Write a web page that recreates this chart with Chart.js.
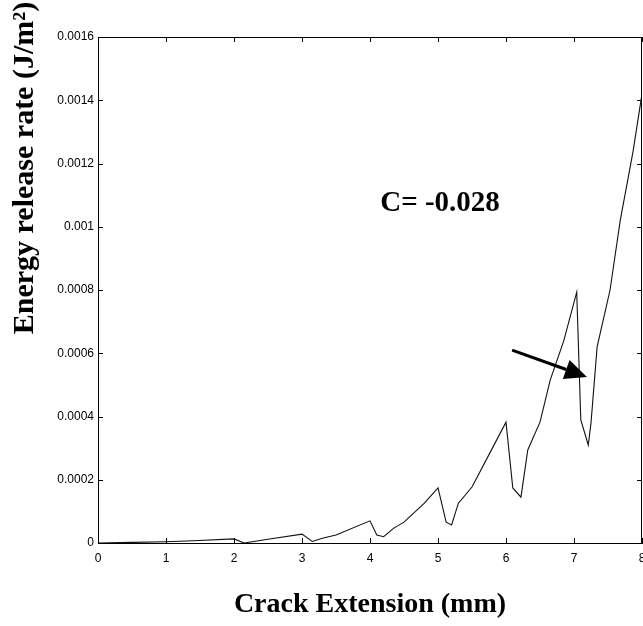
<!DOCTYPE html>
<html>
<head>
<meta charset="utf-8">
<script src="https://cdn.jsdelivr.net/npm/chart.js@4.4.1/dist/chart.umd.min.js"></script>
<style>
html,body{margin:0;padding:0;background:#fff;}
#wrap{width:643px;height:626px;position:relative;}
</style>
</head>
<body>
<div id="wrap"><canvas id="c" width="643" height="626"></canvas></div>
<script>
// Crack extension (mm)
const crackExt = [0, 0.5, 1.0, 1.4, 2.0, 2.15, 2.5, 3.0, 3.15, 3.3, 3.5, 4.0, 4.1, 4.2, 4.35, 4.5, 4.8, 5.0, 5.12, 5.2, 5.3, 5.5, 5.8, 6.0, 6.1, 6.22, 6.32, 6.5, 6.65, 6.85, 7.04, 7.1, 7.21, 7.25, 7.34, 7.53, 7.68, 7.87, 8.0];
// Energy release rate (J/m^2)
const energyRate = [0, 0.000002, 0.000004, 0.000007, 0.000013, 0.0, 0.000012, 0.000028, 0.000005, 0.000015, 0.000025, 0.00007, 0.000025, 0.00002, 0.000047, 0.000066, 0.000126, 0.000174, 0.000066, 0.000057, 0.000126, 0.000177, 0.0003, 0.000382, 0.000174, 0.000145, 0.000294, 0.000382, 0.000515, 0.00064, 0.000793, 0.000389, 0.00031, 0.00038, 0.00062, 0.0008, 0.00102, 0.00124, 0.00142];
const xTitle = 'Crack Extension (mm)';
const yTitle = 'Energy release rate (J/m²)';
const noteText = 'C= -0.028';
const notePos = [4.15, 0.00105];
const arrowFrom = [6.09, 0.00061];
const arrowTo = [7.19, 0.000525];

const points = crackExt.map((x, i) => ({x: x, y: energyRate[i]}));

const framePlugin = {
  id: 'frame',
  afterDraw(chart) {
    const ctx = chart.ctx;
    const xs = chart.scales.x, ys = chart.scales.y;
    const a = chart.chartArea;
    ctx.save();
    ctx.strokeStyle = '#000';
    ctx.lineWidth = 1;
    // frame
    ctx.beginPath();
    ctx.moveTo(a.left, a.top + 0.5); ctx.lineTo(a.right, a.top + 0.5);
    ctx.moveTo(a.right - 0.5, a.top); ctx.lineTo(a.right - 0.5, a.bottom);
    ctx.stroke();
    // inward ticks
    ctx.beginPath();
    xs.ticks.forEach(t => {
      const px = Math.round(xs.getPixelForValue(t.value)) + 0.5;
      ctx.moveTo(px, a.bottom); ctx.lineTo(px, a.bottom - 5);
      ctx.moveTo(px, a.top); ctx.lineTo(px, a.top + 5);
    });
    ys.ticks.forEach(t => {
      const py = Math.round(ys.getPixelForValue(t.value)) + 0.5;
      ctx.moveTo(a.left, py); ctx.lineTo(a.left + 5, py);
      ctx.moveTo(a.right, py); ctx.lineTo(a.right - 5, py);
    });
    ctx.stroke();
    // y title
    ctx.fillStyle = '#000';
    ctx.font = 'bold 30px "Liberation Serif"';
    ctx.textAlign = 'center';
    ctx.textBaseline = 'alphabetic';
    ctx.save();
    ctx.translate(33, 168);
    ctx.rotate(-Math.PI / 2);
    ctx.fillText(yTitle, 0, 0);
    ctx.restore();
    // annotation
    ctx.font = 'bold 29px "Liberation Serif"';
    ctx.textAlign = 'left';
    ctx.fillText(noteText, xs.getPixelForValue(notePos[0]), ys.getPixelForValue(notePos[1]));
    // arrow
    const x1 = xs.getPixelForValue(arrowFrom[0]), y1 = ys.getPixelForValue(arrowFrom[1]);
    const x2 = xs.getPixelForValue(arrowTo[0]), y2 = ys.getPixelForValue(arrowTo[1]);
    const ang = Math.atan2(y2 - y1, x2 - x1);
    const hl = 22, hw = 10;
    const bx = x2 - hl * Math.cos(ang), by = y2 - hl * Math.sin(ang);
    ctx.lineWidth = 3;
    ctx.beginPath();
    ctx.moveTo(x1, y1); ctx.lineTo(bx, by);
    ctx.stroke();
    ctx.beginPath();
    ctx.moveTo(x2, y2);
    ctx.lineTo(bx + hw * Math.sin(ang), by - hw * Math.cos(ang));
    ctx.lineTo(bx - hw * Math.sin(ang), by + hw * Math.cos(ang));
    ctx.closePath();
    ctx.fill();
    ctx.restore();
  }
};

new Chart(document.getElementById('c'), {
  type: 'line',
  data: {
    datasets: [{
      data: points,
      borderColor: '#111',
      borderWidth: 1.1,
      pointRadius: 0,
      tension: 0,
      fill: false
    }]
  },
  options: {
    responsive: false,
    animation: false,
    layout: {padding: {top: 37, right: 1, left: 0, bottom: 0}},
    plugins: {legend: {display: false}, tooltip: {enabled: false}},
    scales: {
      x: {
        type: 'linear', min: 0, max: 8,
        ticks: {stepSize: 1, color: '#000', padding: 8, font: {family: 'Liberation Sans', size: 12}, maxRotation: 0},
        grid: {display: false, drawTicks: false},
        border: {display: true, color: '#000', width: 1},
        title: {display: true, text: xTitle, color: '#000', font: {family: 'Liberation Serif', size: 28, weight: 'bold'}, padding: {top: 0, bottom: 4}},
        afterFit(s) { s.height = 83; s.paddingLeft = 0; s.paddingRight = 0; }
      },
      y: {
        type: 'linear', min: 0, max: 0.0016,
        ticks: {stepSize: 0.0002, color: '#000', padding: 4, font: {family: 'Liberation Sans', size: 12},
          callback: v => String(Number(Number(v).toPrecision(6)))},
        grid: {display: false, drawTicks: false},
        border: {display: true, color: '#000', width: 1},
        afterFit(s) { s.width = 98; s.paddingTop = 0; s.paddingBottom = 0; }
      }
    }
  },
  plugins: [framePlugin]
});
</script>
</body>
</html>
